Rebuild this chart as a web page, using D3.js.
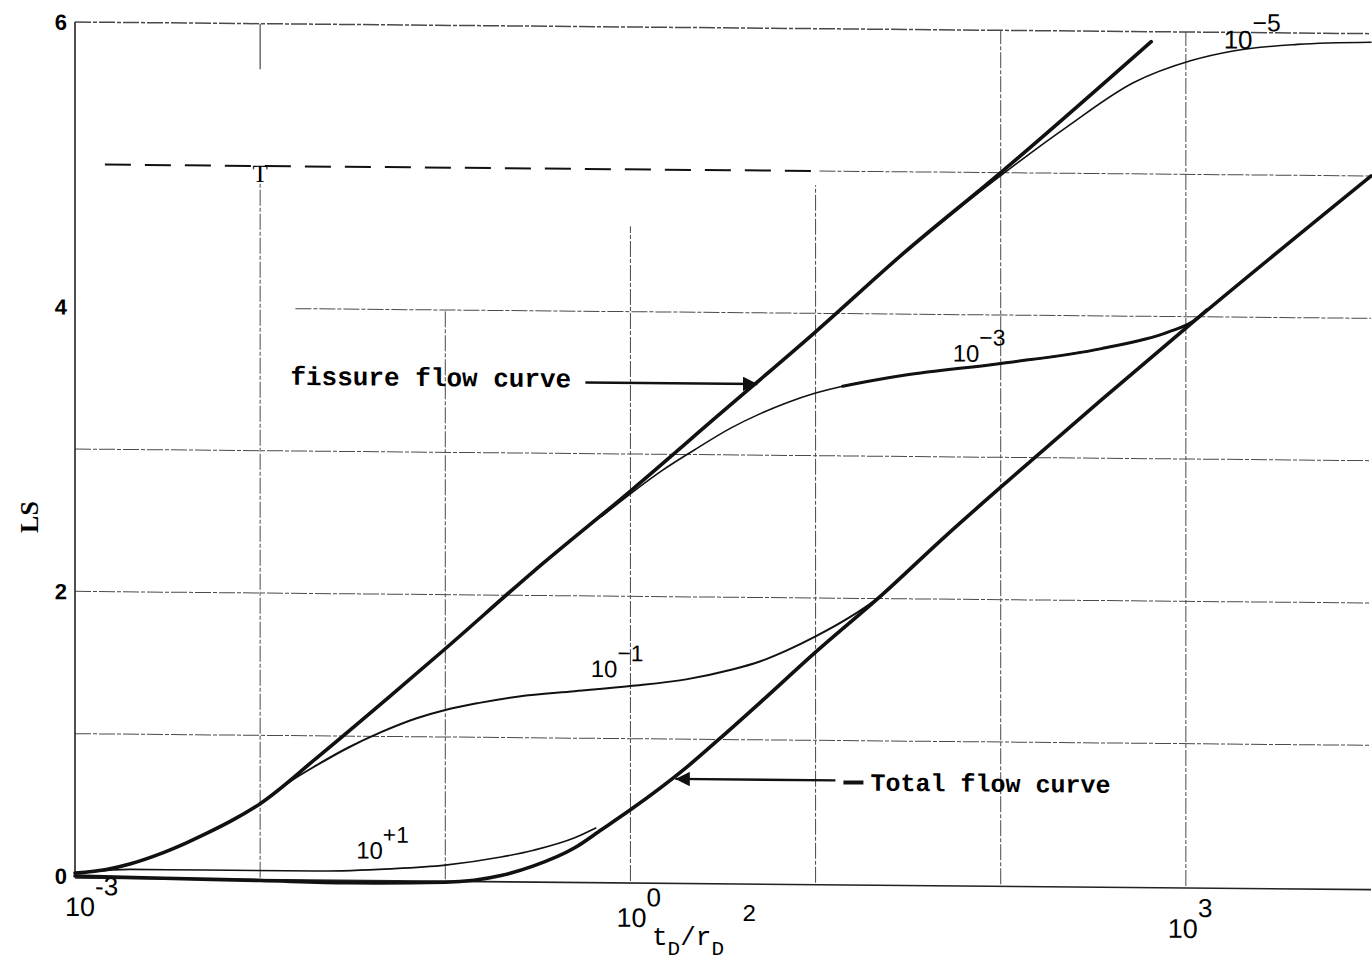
<!DOCTYPE html>
<html>
<head>
<meta charset="utf-8">
<script src="https://cdn.jsdelivr.net/npm/d3@7"></script>
<style>
body { margin: 0; background: #fff; }
svg { display: block; }
.mono { font-family: "Liberation Mono", "DejaVu Sans Mono", monospace; }
.sans { font-family: "Liberation Sans", Arial, sans-serif; }
.serif { font-family: "Liberation Serif", "DejaVu Serif", serif; }
</style>
</head>
<body>
<div id="chart"></div>
<script>
var width = 1372, height = 960;

// axis ticks
var yTickLabels = [0, 2, 4, 6];
var yGrid = [1, 2, 3, 4, 5, 6];
var xGrid = [1e-2, 1e-1, 1e0, 1e1, 1e2, 1e3];
var xTickExp = ["-3", "0", "3"];

// curves, [tD/rD^2, value]
var fissureCurve = [[0.001,0.02],[0.0015,0.05],[0.002,0.09],[0.003,0.17],[0.004,0.24],[0.005,0.3],
  [0.0075,0.42],[0.01,0.52],[0.02,0.84],[0.05,1.28],[0.1,1.62],[0.3,2.17],[1,2.74],
  [3,3.28],[10,3.87],[30,4.43],[100,5.0],[650,5.93]];
var totalCurve = [[0.001,0.0],[0.003,-0.01],[0.01,-0.02],[0.03,-0.03],[0.1,-0.02],[0.2,0.03],[0.3,0.1],
  [0.5,0.23],[0.7,0.36],[1,0.5],[2,0.8],[3,1.0],[5,1.26],[10,1.62],[23,2.03],[50,2.44],[100,2.79],
  [1000,3.92],[10000,5.0]];
var lambda1em5 = [[30,4.43],[100,4.98],[230,5.33],[520,5.64],[1070,5.8],[1800,5.87],[4000,5.92],[10000,5.94]];
var lambda1em3 = [[0.7,2.56],[1,2.72],[1.5,2.89],[2.2,3.03],[3.5,3.19],[5,3.29],[7,3.37],[10,3.44],
  [14,3.49],[20,3.53],[30,3.57],[100,3.66],[350,3.77],[800,3.89],[1100,3.97],[1300,4.05]];
var lambda1em1 = [[0.01,0.52],[0.015,0.69],[0.02,0.79],[0.03,0.92],[0.045,1.03],[0.07,1.13],[0.1,1.19],
  [0.15,1.24],[0.25,1.29],[0.5,1.33],[1,1.37],[2,1.42],[3.5,1.49],[5,1.55],[7,1.63],[10,1.73],
  [15,1.86],[21,1.99],[28,2.13]];
var lambda1e1 = [[0.0012,0.03],[0.002,0.05],[0.005,0.05],[0.02,0.05],[0.05,0.07],[0.1,0.1],[0.2,0.16],
  [0.3,0.21],[0.5,0.3],[0.65,0.37]];

var x = d3.scaleLog().domain([1e-3, 1e4]).range([75, 1371]);
var y = d3.scaleLinear().domain([0, 6]).range([876, 22]);

var svg = d3.select("#chart").append("svg")
  .attr("width", width)
  .attr("height", height);

// the scan is slightly sheared
var k = 0.009;
var g = svg.append("g")
  .attr("transform", "matrix(1," + k + ",0,1,0," + (-k * 75) + ")");

var gridColor = "#4a4a4a";
var gridDash = "16,2,4,2";

// vertical grid (some lines start lower, as in the scan)
var vTop = {0.01: 5, 0.1: 4, 1: 4.6, 10: 4.9, 100: 6, 1000: 6};
g.selectAll(".vgrid")
  .data(xGrid)
  .enter().append("line")
  .attr("class", "vgrid")
  .attr("x1", function(d) { return x(d); })
  .attr("x2", function(d) { return x(d); })
  .attr("y1", y(0))
  .attr("y2", function(d) { return y(vTop[d]); })
  .attr("stroke", gridColor)
  .attr("stroke-width", 1)
  .attr("stroke-dasharray", gridDash);
// short stub at top of 10^-2
g.append("line")
  .attr("x1", x(0.01)).attr("x2", x(0.01))
  .attr("y1", y(6)).attr("y2", y(5.68))
  .attr("stroke", gridColor).attr("stroke-width", 1.2);

// horizontal grid
var hLeft = {1: 1e-3, 2: 1e-3, 3: 1e-3, 4: 0.0155, 5: 10.5, 6: 1e-3};
g.selectAll(".hgrid")
  .data(yGrid)
  .enter().append("line")
  .attr("class", "hgrid")
  .attr("x1", function(d) { return x(hLeft[d]); })
  .attr("x2", x(1e4))
  .attr("y1", function(d) { return y(d); })
  .attr("y2", function(d) { return y(d); })
  .attr("stroke", gridColor)
  .attr("stroke-width", function(d) { return d == 6 ? 1.5 : 1; })
  .attr("stroke-dasharray", gridDash);
// bold dashed stretch of the 5 line
g.append("line")
  .attr("x1", x(0.00145)).attr("x2", x(10.5))
  .attr("y1", y(5)).attr("y2", y(5))
  .attr("stroke", "#111").attr("stroke-width", 2)
  .attr("stroke-dasharray", "26,14");
g.append("text")
  .attr("class", "serif")
  .attr("x", x(0.01)).attr("y", y(5) + 16)
  .attr("text-anchor", "middle")
  .attr("font-size", 25)
  .text("T");

// axes
g.append("line")
  .attr("x1", x(1e-3)).attr("x2", x(1e-3))
  .attr("y1", y(0)).attr("y2", y(6))
  .attr("stroke", "#222").attr("stroke-width", 1.6);
g.append("line")
  .attr("x1", x(1e-3)).attr("x2", x(1e4))
  .attr("y1", y(0) + 2).attr("y2", y(0) + 2)
  .attr("stroke", "#222").attr("stroke-width", 1.6);

// y tick labels
g.selectAll(".ytick")
  .data(yTickLabels)
  .enter().append("text")
  .attr("class", "sans")
  .attr("x", x(1e-3) - 8)
  .attr("y", function(d) { return y(d) + 8; })
  .attr("text-anchor", "end")
  .attr("font-size", 22)
  .attr("font-weight", "bold")
  .text(function(d) { return d; });

// x tick labels
var xt = g.selectAll(".xtick")
  .data(xTickExp)
  .enter().append("text")
  .attr("class", "sans")
  .attr("x", function(d, i) { return x(Math.pow(10, +d)) - 10 - i * 4; })
  .attr("y", function(d, i) { return 916 + i * 6; })
  .attr("font-size", 27);
xt.append("tspan").text("10");
xt.append("tspan").attr("dy", -21).attr("font-size", 26).text(function(d) { return d; });

// curves
var line = d3.line()
  .x(function(d) { return x(d[0]); })
  .y(function(d) { return y(d[1]); })
  .curve(d3.curveMonotoneX);

function drawCurve(data, w) {
  g.append("path")
    .datum(data)
    .attr("d", line)
    .attr("fill", "none")
    .attr("stroke", "#111")
    .attr("stroke-width", w)
    .attr("stroke-linecap", "round");
}
drawCurve(lambda1e1, 1.6);
drawCurve(lambda1em1, 2);
drawCurve(lambda1em3, 1.6);
drawCurve(lambda1em3.filter(function(d) { return d[0] >= 12; }), 3);
drawCurve(lambda1em5, 1.6);
drawCurve(fissureCurve, 3.6);
drawCurve(totalCurve, 3.6);

// lambda labels
function powLabel(px, py, exp, size) {
  var t = g.append("text")
    .attr("class", "sans")
    .attr("x", px).attr("y", py)
    .attr("font-size", size);
  t.append("tspan").text("10");
  t.append("tspan").attr("dy", -size * 0.68).attr("font-size", size * 0.95).text(exp);
}
powLabel(x(1600), y(5.9) + 2, "\u22125", 26);
powLabel(x(55), y(3.67), "\u22123", 24);
powLabel(x(0.61), y(1.43), "\u22121", 24);
powLabel(x(0.033), y(0.14), "+1", 24);

// annotation arrows
svg.append("defs").append("marker")
  .attr("id", "head")
  .attr("viewBox", "0 0 10 10")
  .attr("refX", 10).attr("refY", 5)
  .attr("markerWidth", 7).attr("markerHeight", 6)
  .attr("markerUnits", "strokeWidth")
  .attr("orient", "auto")
  .append("path").attr("d", "M0,0 L10,5 L0,10 z").attr("fill", "#111");

var fTip = [4.85, 3.5];
g.append("line")
  .attr("x1", x(fTip[0]) - 172).attr("x2", x(fTip[0]))
  .attr("y1", y(fTip[1])).attr("y2", y(fTip[1]))
  .attr("stroke", "#111").attr("stroke-width", 2.4)
  .attr("marker-end", "url(#head)");
g.append("text")
  .attr("class", "mono")
  .attr("x", x(fTip[0]) - 467).attr("y", y(fTip[1]) + 5)
  .attr("font-size", 26)
  .attr("font-weight", "bold")
  .text("fissure flow curve");

var tTip = [1.75, 0.72];
g.append("line")
  .attr("x1", x(tTip[0]) + 160).attr("x2", x(tTip[0]))
  .attr("y1", y(tTip[1])).attr("y2", y(tTip[1]))
  .attr("stroke", "#111").attr("stroke-width", 2.4)
  .attr("marker-end", "url(#head)");
g.append("line")
  .attr("x1", x(tTip[0]) + 168).attr("x2", x(tTip[0]) + 188)
  .attr("y1", y(tTip[1]) + 2).attr("y2", y(tTip[1]) + 2)
  .attr("stroke", "#111").attr("stroke-width", 4);
g.append("text")
  .attr("class", "mono")
  .attr("x", x(tTip[0]) + 195).attr("y", y(tTip[1]) + 10)
  .attr("font-size", 25)
  .attr("font-weight", "bold")
  .text("Total flow curve");

// axis titles
var xl = svg.append("text")
  .attr("class", "mono")
  .attr("x", 652).attr("y", 945)
  .attr("font-size", 26);
xl.append("tspan").text("t");
xl.append("tspan").attr("dy", 10).attr("font-size", 21).text("D");
xl.append("tspan").attr("dy", -10).text("/r");
xl.append("tspan").attr("dy", 10).attr("font-size", 21).text("D");
xl.append("tspan").attr("dy", -34).attr("dx", 18).attr("font-size", 24).text("2");

svg.append("text")
  .attr("class", "serif")
  .attr("transform", "translate(38,517) rotate(-90)")
  .attr("text-anchor", "middle")
  .attr("font-size", 26)
  .attr("font-weight", "bold")
  .text("LS");
</script>
</body>
</html>
